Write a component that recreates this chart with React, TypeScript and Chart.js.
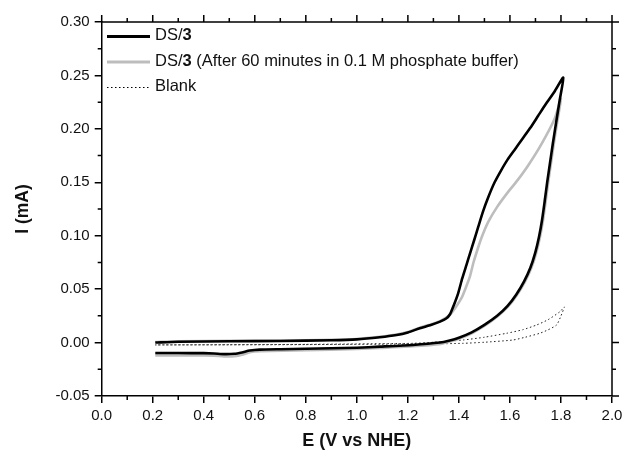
import { useEffect, useRef } from "react";
import { Chart, registerables } from "chart.js";

Chart.register(...registerables);

// DS/3, forward scan then reverse scan
const ds3E = [
  0.21, 0.3, 0.5, 0.7, 0.9, 1.0, 1.09, 1.156, 1.2, 1.247, 1.29, 1.326, 1.35, 1.365, 1.38, 1.397, 1.413,
  1.43, 1.443, 1.46, 1.476, 1.495, 1.515, 1.54, 1.565, 1.59, 1.62, 1.65, 1.68, 1.71, 1.74, 1.775, 1.809,
  1.795, 1.781, 1.768, 1.757, 1.746, 1.736, 1.726, 1.714, 1.699, 1.68, 1.655, 1.625, 1.59, 1.55, 1.5,
  1.45, 1.4, 1.36, 1.326, 1.22, 1.09, 1.0, 0.9, 0.8, 0.7, 0.62, 0.58, 0.55, 0.52, 0.48, 0.44, 0.4, 0.3,
  0.21,
];
const ds3I = [
  0.0, 0.0008, 0.0012, 0.0015, 0.0022, 0.003, 0.005, 0.0071, 0.0095, 0.0134, 0.0165, 0.0196, 0.0225,
  0.0265, 0.035, 0.0461, 0.06, 0.073, 0.083, 0.096, 0.1085, 0.123, 0.136, 0.15, 0.161, 0.171, 0.181,
  0.191, 0.201, 0.212, 0.223, 0.235, 0.248,
  0.227, 0.206, 0.186, 0.168, 0.15, 0.132, 0.115, 0.099, 0.084, 0.07, 0.057, 0.045, 0.034, 0.025,
  0.0165, 0.0095, 0.0045, 0.0017, 0.0, -0.0022, -0.0038, -0.0048, -0.0053, -0.0058, -0.0062, -0.0066,
  -0.0075, -0.0092, -0.0105, -0.0108, -0.0102, -0.0099, -0.0098, -0.0098,
];

// DS/3 after 60 minutes in 0.1 M phosphate buffer
const agedE = [
  0.21, 0.3, 0.5, 0.7, 0.9, 1.0, 1.09, 1.156, 1.2, 1.247, 1.29, 1.326, 1.365, 1.39, 1.411, 1.428,
  1.443, 1.456, 1.47, 1.49, 1.515, 1.55, 1.593, 1.63, 1.672, 1.724, 1.776, 1.8,
  1.785, 1.772, 1.761, 1.75, 1.74, 1.73, 1.718, 1.703, 1.684, 1.659, 1.629, 1.594, 1.554, 1.504, 1.454,
  1.404, 1.365, 1.33, 1.22, 1.09, 1.0, 0.8, 0.62, 0.58, 0.55, 0.52, 0.48, 0.44, 0.4, 0.3, 0.21,
];
const agedI = [
  0.0005, 0.0012, 0.0016, 0.0019, 0.0026, 0.0034, 0.0054, 0.0075, 0.0099, 0.014, 0.017, 0.02, 0.026,
  0.034, 0.042, 0.052, 0.0617, 0.074, 0.085, 0.099, 0.113, 0.127, 0.141, 0.152, 0.166, 0.186, 0.21,
  0.228,
  0.206, 0.186, 0.168, 0.15, 0.132, 0.115, 0.099, 0.084, 0.07, 0.057, 0.045, 0.034, 0.025, 0.0162,
  0.0092, 0.004, 0.001, -0.0012, -0.0035, -0.005, -0.006, -0.0072, -0.008, -0.009, -0.0115, -0.0128,
  -0.013, -0.0122, -0.012, -0.012, -0.012,
];

// Blank electrode
const blankE = [
  0.21, 0.5, 0.8, 1.0, 1.22, 1.3, 1.416, 1.5, 1.587, 1.65, 1.705, 1.75, 1.796, 1.813,
  1.8, 1.783, 1.75, 1.717, 1.66, 1.612, 1.5, 1.416, 1.3, 1.09, 0.8, 0.5, 0.21,
];
const blankI = [
  -0.0022, -0.002, -0.0017, -0.0013, -0.0007, 0.0003, 0.0024, 0.005, 0.0087, 0.012, 0.0165, 0.0215,
  0.0289, 0.0333,
  0.025, 0.0165, 0.012, 0.0087, 0.005, 0.0024, 0.0003, -0.0007, -0.0012, -0.0015, -0.0019, -0.0021,
  -0.0022,
];

const xMin = 0;
const xMax = 2.0;
const xStep = 0.2;
const yMin = -0.05;
const yMax = 0.3;
const yStep = 0.05;

const FONT = "'Liberation Sans', Arial, sans-serif";
const BLACK = "#000000";
const GREY = "#bdbdbd";

const toPoints = (xs: number[], ys: number[]) => xs.map((x, i) => ({ x, y: ys[i] }));
const fmt = (v: any, d: number) => {
  const n = Number(v);
  return (Math.abs(n) < 1e-9 ? 0 : n).toFixed(d);
};

const frame = {
  id: "frame",
  afterDraw(chart: any) {
    const { ctx, chartArea: a } = chart;
    const xs = chart.scales.x;
    const ys = chart.scales.y;
    ctx.save();
    ctx.strokeStyle = BLACK;
    ctx.lineWidth = 1.5;
    ctx.beginPath();
    ctx.moveTo(a.left, a.top);
    ctx.lineTo(a.right, a.top);
    ctx.moveTo(a.right, a.top);
    ctx.lineTo(a.right, a.bottom);
    // x ticks: minor on bottom, major+minor on top
    for (let k = 0; k <= 20; k++) {
      const px = xs.getPixelForValue(k * 0.1);
      const major = k % 2 === 0;
      const len = major ? 7 : 4;
      if (!major) {
        ctx.moveTo(px, a.bottom);
        ctx.lineTo(px, a.bottom + len);
      }
      ctx.moveTo(px, a.top);
      ctx.lineTo(px, a.top - len);
    }
    for (let k = 0; k <= 14; k++) {
      const py = ys.getPixelForValue(yMin + k * 0.025);
      const major = k % 2 === 0;
      const len = major ? 7 : 4;
      if (!major) {
        ctx.moveTo(a.left, py);
        ctx.lineTo(a.left - len, py);
      }
      ctx.moveTo(a.right, py);
      ctx.lineTo(a.right + len, py);
    }
    ctx.stroke();

    // legend
    const rows = [
      { y: 35.5, color: BLACK, width: 3, dash: [] as number[], bold: "3", pre: "DS/", post: "" },
      {
        y: 61,
        color: GREY,
        width: 3,
        dash: [] as number[],
        bold: "3",
        pre: "DS/",
        post: " (After 60 minutes in 0.1 M phosphate buffer)",
      },
      { y: 86.5, color: BLACK, width: 1, dash: [1.5, 2.5], bold: "", pre: "Blank", post: "" },
    ];
    ctx.textBaseline = "middle";
    ctx.fillStyle = "#111";
    for (const r of rows) {
      ctx.beginPath();
      ctx.strokeStyle = r.color;
      ctx.lineWidth = r.width;
      ctx.setLineDash(r.dash);
      ctx.moveTo(107, r.y + 1);
      ctx.lineTo(150, r.y + 1);
      ctx.stroke();
      ctx.setLineDash([]);
      let tx = 155;
      ctx.font = `16.5px ${FONT}`;
      ctx.fillText(r.pre, tx, r.y);
      tx += ctx.measureText(r.pre).width;
      if (r.bold) {
        ctx.font = `bold 16.5px ${FONT}`;
        ctx.fillText(r.bold, tx, r.y);
        tx += ctx.measureText(r.bold).width;
      }
      if (r.post) {
        ctx.font = `16.5px ${FONT}`;
        ctx.fillText(r.post, tx, r.y);
      }
    }
    ctx.restore();
  },
};

export default function App() {
  const ref = useRef<HTMLCanvasElement | null>(null);

  useEffect(() => {
    if (!ref.current) return;
    const c = new Chart(ref.current, {
      type: "scatter",
      data: {
        datasets: [
          {
            label: "DS/3",
            data: toPoints(ds3E, ds3I),
            showLine: true,
            borderColor: BLACK,
            borderWidth: 2.6,
            pointRadius: 0,
            tension: 0.2,
          },
          {
            label: "DS/3 (After 60 minutes in 0.1 M phosphate buffer)",
            data: toPoints(agedE, agedI),
            showLine: true,
            borderColor: GREY,
            borderWidth: 2.6,
            pointRadius: 0,
            tension: 0.2,
          },
          {
            label: "Blank",
            data: toPoints(blankE, blankI),
            showLine: true,
            borderColor: "#222",
            borderWidth: 1,
            borderDash: [1.5, 2.5],
            pointRadius: 0,
            tension: 0.2,
          },
        ],
      },
      options: {
        animation: false,
        responsive: true,
        maintainAspectRatio: false,
        layout: { padding: { left: 0, right: 10, top: 22, bottom: 0 } },
        plugins: { legend: { display: false }, tooltip: { enabled: false } },
        scales: {
          x: {
            type: "linear",
            min: xMin,
            max: xMax,
            afterFit: (s: any) => {
              s.height = 56;
              s.paddingLeft = 0;
              s.paddingRight = 0;
            },
            ticks: {
              stepSize: xStep,
              color: "#111",
              padding: 4,
              font: { family: FONT, size: 15 },
              callback: (v: any) => fmt(v, 1),
            },
            grid: { drawOnChartArea: false, tickLength: 7, color: BLACK, lineWidth: 1.5 },
            border: { color: BLACK, width: 1.5 },
            title: {
              display: true,
              text: "E (V vs NHE)",
              color: "#111",
              font: { family: FONT, size: 18, weight: "bold" },
              padding: { top: 0, bottom: 0 },
            },
          },
          y: {
            type: "linear",
            min: yMin,
            max: yMax,
            afterFit: (s: any) => {
              s.width = 101.7;
              s.paddingTop = 0;
              s.paddingBottom = 0;
            },
            ticks: {
              stepSize: yStep,
              color: "#111",
              padding: 5,
              font: { family: FONT, size: 15 },
              callback: (v: any) => fmt(v, 2),
            },
            grid: { drawOnChartArea: false, tickLength: 7, color: BLACK, lineWidth: 1.5 },
            border: { color: BLACK, width: 1.5 },
            title: {
              display: true,
              text: "I (mA)",
              color: "#111",
              font: { family: FONT, size: 17.5, weight: "bold" },
              padding: { top: 13, bottom: 0 },
            },
          },
        },
      },
      plugins: [frame],
    });
    return () => c.destroy();
  }, []);

  return (
    <div style={{ position: "fixed", left: 0, top: 0, width: 622, height: 452, background: "#fff" }}>
      <canvas ref={ref}></canvas>
    </div>
  );
}
